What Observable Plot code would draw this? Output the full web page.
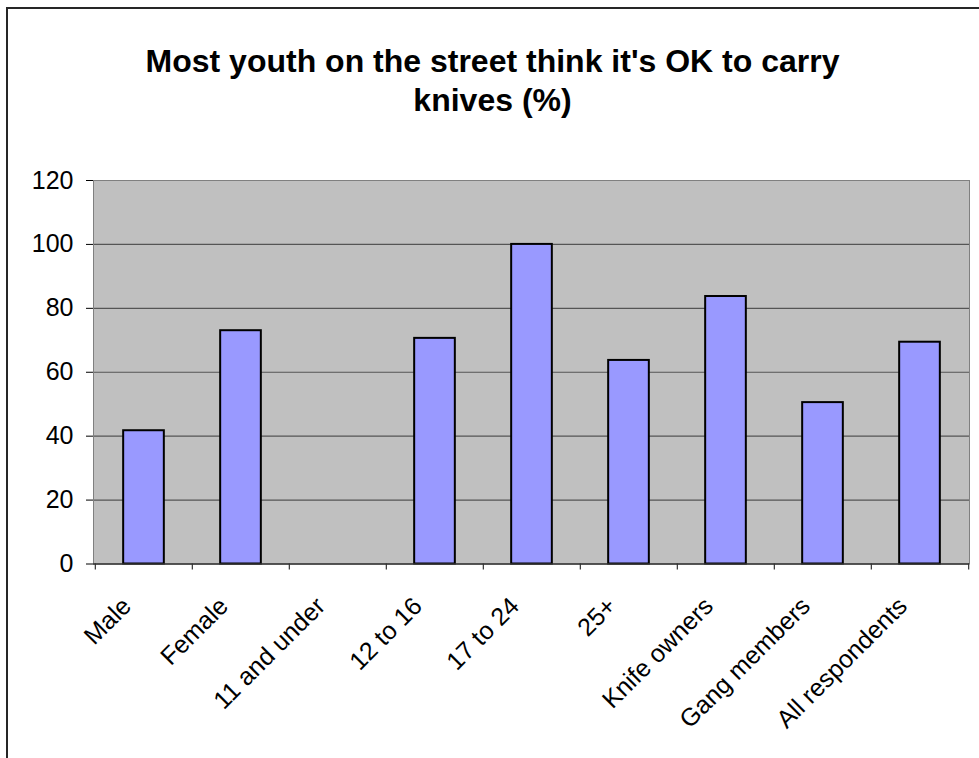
<!DOCTYPE html>
<html>
<head>
<meta charset="utf-8">
<script src="https://cdn.jsdelivr.net/npm/d3@7"></script>
<script src="https://cdn.jsdelivr.net/npm/@observablehq/plot@0.6"></script>
<style>
  html, body { margin: 0; padding: 0; background: #fff; overflow: hidden; }
  #wrap { position: relative; width: 979px; height: 758px; overflow: hidden; }
  #frame { position: absolute; left: 6px; top: 7px; width: 1200px; height: 1000px;
           border-left: 2px solid #262626; border-top: 2px solid #262626; pointer-events: none; }
  #title { position: absolute; left: 3px; top: 42px; width: 979px; text-align: center;
           font-family: "Liberation Sans", Arial, sans-serif; font-weight: bold; font-size: 32px;
           line-height: 39px; color: #000; }
  #chart { position: absolute; left: 0; top: 0; }
</style>
</head>
<body>
<div id="wrap">
  <div id="chart"></div>
  <div id="title">Most youth on the street think it's OK to carry<br>knives (%)</div>
  <div id="frame"></div>
</div>
<script>
const categories = ["Male", "Female", "11 and under", "12 to 16", "17 to 24", "25+", "Knife owners", "Gang members", "All respondents"];
const values = [41.7, 73.0, null, 70.6, 100, 63.7, 83.7, 50.5, 69.4];
const yTicks = [0, 20, 40, 60, 80, 100, 120];
const gridValues = [20, 40, 60, 80, 100];

const data = categories.map((c, i) => ({category: c, value: values[i]}));

const W = 979, H = 758;
const mL = 93, mR = 10, mT = 180, mB = 194.5;
const bw = (W - mL - mR) / categories.length;
const inset = (bw - 41) / 2;

const chart = Plot.plot({
  width: W,
  height: H,
  marginLeft: mL,
  marginRight: mR,
  marginTop: mT,
  marginBottom: mB,
  style: {fontFamily: "'Liberation Sans', Arial, sans-serif", fontSize: "25px", color: "#000", background: "transparent", overflow: "visible"},
  x: {type: "band", domain: categories, padding: 0, axis: null},
  y: {domain: [0, 120], ticks: yTicks, tickSize: 7, tickPadding: 13, label: null, tickFormat: d => String(d)},
  marks: [
    Plot.frame({fill: "#c0c0c0", stroke: null}),
    Plot.ruleY(gridValues, {stroke: "#555", strokeWidth: 1.2}),
    Plot.frame({stroke: "#808080", strokeWidth: 1}),
    Plot.barY(data, {x: "category", y: "value", fill: "#9999ff", stroke: "#000", strokeWidth: 2, insetLeft: inset, insetRight: inset}),
    Plot.ruleY([0], {stroke: "#333", strokeWidth: 1.5}),
    Plot.ruleX(categories, {x: d => d, dx: -bw / 2, y1: 0, y2: -1.9, stroke: "#333", strokeWidth: 1.2}),
    Plot.ruleX(categories.slice(-1), {x: d => d, dx: bw / 2, y1: 0, y2: -1.9, stroke: "#333", strokeWidth: 1.2}),
    Plot.text(categories, {x: d => d, y: 0, text: d => d, rotate: -45, textAnchor: "end", dx: -17, dy: 38, fontSize: 25, fill: "#000"})
  ]
});
document.getElementById("chart").appendChild(chart);
</script>
</body>
</html>
